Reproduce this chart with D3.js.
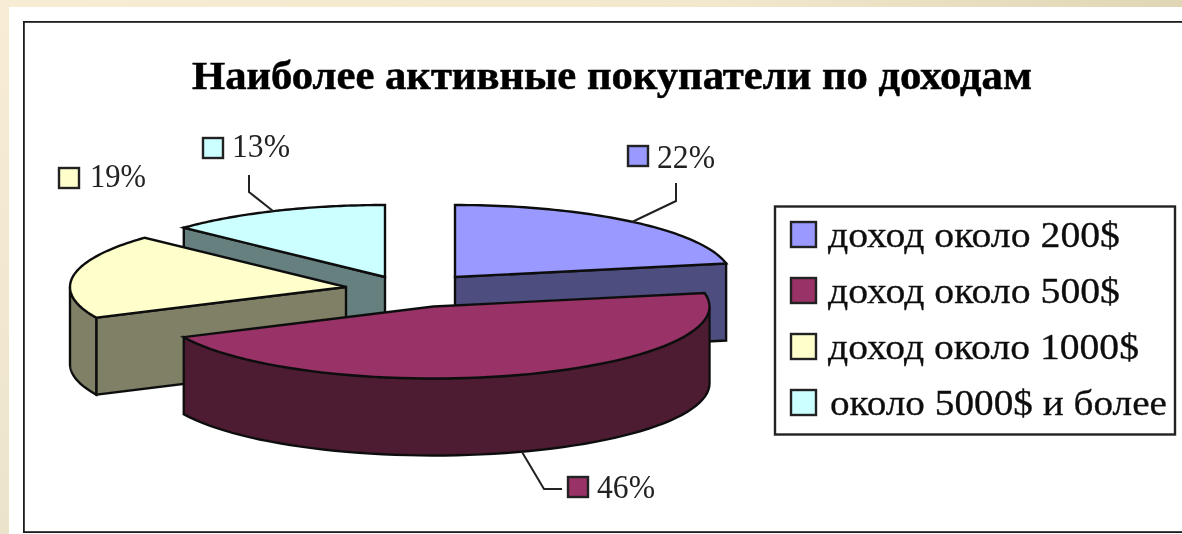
<!DOCTYPE html>
<html lang="ru"><head><meta charset="utf-8">
<style>html,body{margin:0;padding:0;background:#fff}svg{display:block}</style>
<script src="https://cdn.jsdelivr.net/npm/d3@7/dist/d3.min.js"></script></head>
<body><script>
const categories=["доход около 200$","доход около 500$","доход около 1000$","около 5000$ и более"];
const values=[22,46,19,13];
const topColors=["#9999ff","#993366","#ffffcc","#ccffff"];
const sideColors=["#4d4d80","#4d1a33","#808066","#668080"];
const titleText="Наиболее активные покупатели по доходам";

// layout
const W=1182,H=534,rx=276,ry=72,depth=77;
const centers=[[455,277],[433.5,306.5],[346,287],[385,277]];
const drawOrder=[3,2,0,1];
const labelPos=[{sx:628,sy:146,tx:657,by:168,tw:58},{sx:568,sy:477,tx:597,by:498,tw:58},{sx:59,sy:168,tx:90,by:187,tw:56},{sx:203,sy:138,tx:232,by:157,tw:58}];
const leaderPts=[[[676,183],[676,201],[632,222]],[[522,452],[544,489],[562,489]],[],[[249,175],[249,192],[273,211]]];

const svg=d3.select("body").append("svg").attr("width",W).attr("height",H);
const defs=svg.append("defs");
defs.append("filter").attr("id","soft").attr("x",0).attr("y",0).attr("width",1).attr("height",1)
  .append("feGaussianBlur").attr("stdDeviation",0.6);
const topGrad=defs.append("linearGradient").attr("id","band");
topGrad.append("stop").attr("offset","0").attr("stop-color","#f8edd4");
topGrad.append("stop").attr("offset","0.6").attr("stop-color","#f3e8cd");
topGrad.append("stop").attr("offset","1").attr("stop-color","#e0d5b4");
const sideGrad=defs.append("linearGradient").attr("id","strip").attr("x1",0).attr("x2",0).attr("y1",0).attr("y2",1);
sideGrad.append("stop").attr("offset","0").attr("stop-color","#f8edd4");
sideGrad.append("stop").attr("offset","1").attr("stop-color","#ebe4cb");
svg.append("rect").attr("width",W).attr("height",H).attr("fill","url(#strip)");
svg.append("rect").attr("width",W).attr("height",7).attr("fill","url(#band)");
svg.append("rect").attr("x",9).attr("y",7).attr("width",W-9).attr("height",H-7).attr("fill","#fff");
const root=svg.append("g").attr("filter","url(#soft)");
// the frame runs past the right edge of the picture
root.append("rect").attr("x",23.5).attr("y",21.5).attr("width",1170).attr("height",511).attr("fill","#fff").attr("stroke","#1c1c1c").attr("stroke-width",2.6);

const serif="'Liberation Serif','Times New Roman',serif";
root.append("text").attr("x",192).attr("y",89).attr("textLength",840).attr("lengthAdjust","spacingAndGlyphs")
  .attr("font-family",serif).attr("font-weight","bold").attr("font-size",39).attr("fill","#000").attr("stroke","#000").attr("stroke-width",0.5).text(titleText);

const arcs=d3.pie().sort(null).value(d=>d)(values);
const pt=(c,a,dy=0)=>[c[0]+rx*Math.sin(a),c[1]-ry*Math.cos(a)+dy];
const samples=(c,a0,a1,dy=0)=>d3.range(0,61).map(i=>pt(c,a0+(a1-a0)*i/60,dy));
const line=d3.line();
const edge="#111";

drawOrder.forEach(i=>{
  const a=arcs[i],c=centers[i],g=root.append("g");
  const cuts=[];
  if(Math.sin(a.startAngle)<-1e-6) cuts.push(a.startAngle);
  if(Math.sin(a.endAngle)>1e-6) cuts.push(a.endAngle);
  cuts.forEach(t=>{
    const p=pt(c,t),q=pt(c,t,depth);
    g.append("path").attr("d",line([c,p,q,[c[0],c[1]+depth]])+"Z")
      .attr("fill",sideColors[i]).attr("stroke",edge).attr("stroke-width",2.4);
  });
  const w0=Math.max(a.startAngle,Math.PI/2),w1=Math.min(a.endAngle,3*Math.PI/2);
  if(w1>w0){
    const pts=samples(c,w0,w1).concat(samples(c,w1,w0,depth));
    g.append("path").attr("d",line(pts)+"Z").attr("fill",sideColors[i]).attr("stroke",edge).attr("stroke-width",2.4);
  }
  const topPts=[c].concat(samples(c,a.startAngle,a.endAngle));
  g.append("path").attr("d",line(topPts)+"Z").attr("fill",topColors[i]).attr("stroke",edge).attr("stroke-width",2.4);
});

// leaders + data labels
values.forEach((v,i)=>{
  const l=labelPos[i];
  if(leaderPts[i].length) root.append("path").attr("d",line(leaderPts[i])).attr("fill","none").attr("stroke","#222").attr("stroke-width",2);
  root.append("rect").attr("x",l.sx).attr("y",l.sy).attr("width",20).attr("height",20).attr("fill",topColors[i]).attr("stroke","#222").attr("stroke-width",2.4);
  root.append("text").attr("x",l.tx).attr("y",l.by).attr("textLength",l.tw).attr("lengthAdjust","spacingAndGlyphs")
    .attr("font-family",serif).attr("font-size",34).attr("fill","#222").text(v+"%");
});

// legend
root.append("rect").attr("x",775).attr("y",206.5).attr("width",400).attr("height",228).attr("fill","#fff").attr("stroke","#222").attr("stroke-width",2.4);
const legendY=d3.scalePoint().domain(categories).range([222,390]);
const legendW=[292,292,311,337];
categories.forEach((n,i)=>{
  const y=legendY(n);
  root.append("rect").attr("x",791).attr("y",y).attr("width",25).attr("height",25).attr("fill",topColors[i]).attr("stroke","#222").attr("stroke-width",2.4);
  root.append("text").attr("x",i==3?830:828).attr("y",y+25).attr("textLength",legendW[i]).attr("lengthAdjust","spacingAndGlyphs")
    .attr("font-family",serif).attr("font-size",36).attr("fill","#111").attr("stroke","#111").attr("stroke-width",0.3).text(n);
});
</script></body></html>
